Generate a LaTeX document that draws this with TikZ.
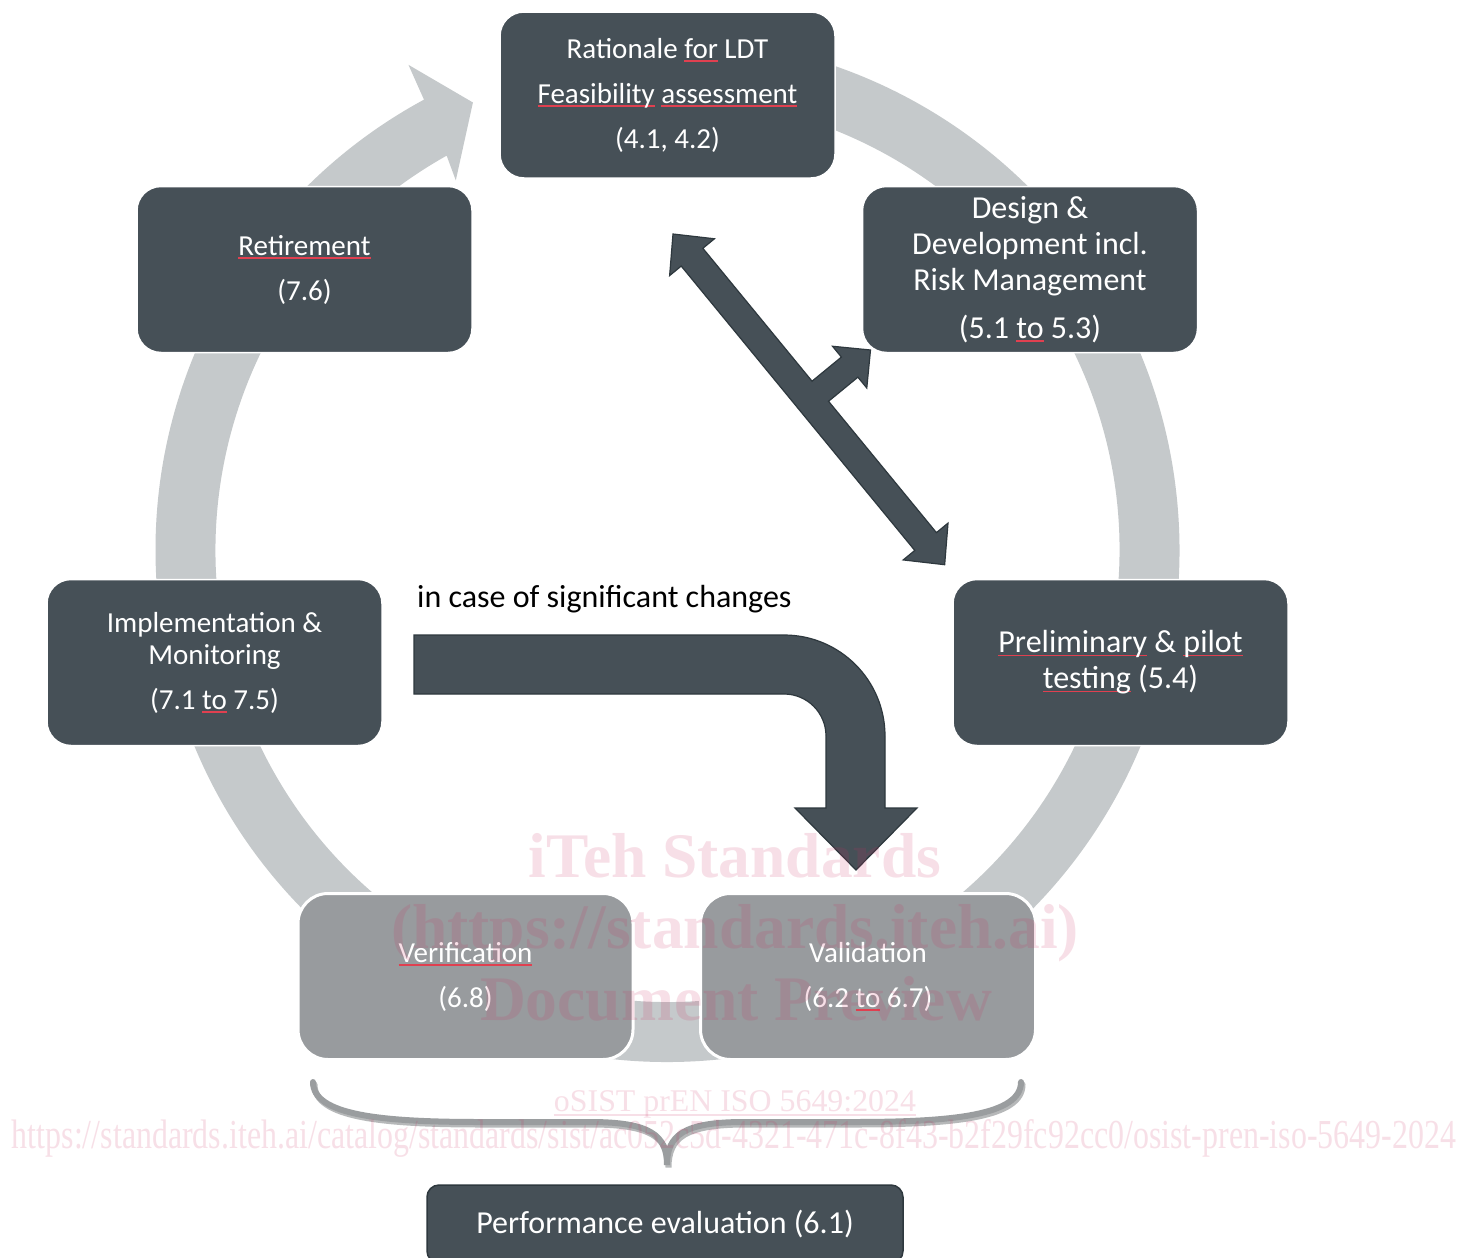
\documentclass[tikz,border=0pt]{standalone}
\usepackage{fontspec}
\setmainfont{Carlito}
\newfontfamily\wmfont{Liberation Serif}
\usepackage{graphicx}
\usetikzlibrary{calc}
\definecolor{dark}{HTML}{465057}
\definecolor{darkline}{HTML}{2E383E}
\definecolor{lgray}{HTML}{989B9E}
\definecolor{ringc}{HTML}{C5C9CB}
\definecolor{bracec}{HTML}{9A9D9F}
\definecolor{braceshadow}{HTML}{6E7275}
\definecolor{sqred}{HTML}{E04050}
\definecolor{wmpink}{RGB}{205,45,95}
\newlength\sqlen
\newcommand\sq[1]{\settowidth{\sqlen}{#1}\rlap{\textcolor{sqred}{\rule[-3.5pt]{\sqlen}{1.3pt}}}#1}
\begin{document}
\begin{tikzpicture}[x=1pt,y=-1pt,
  box/.style={rectangle, rounded corners=24pt, fill=dark, draw=white, line width=1.5pt,
    text=white, align=center, inner sep=0pt, minimum width=335pt, minimum height=166pt,
    font=\fontsize{29}{32}\selectfont},
  bigbox/.style={box, font=\fontsize{32}{36}\selectfont},
  graybox/.style={box, fill=lgray, line width=3pt, rounded corners=30pt},
  darkshape/.style={fill=dark, draw=darkline, line width=1.2pt, line join=miter},
  wm/.style={text=wmpink, text opacity=0.15, inner sep=0pt, anchor=base}]
\useasboundingbox (0,0) rectangle (1460,1258);
\fill[white] (0,0) rectangle (1460,1258);
\coordinate (C) at (667.5,550);
% ring with arrowhead
\fill[ringc] ($(C)+(-95:512)$) arc[start angle=-95, end angle=241.6, radius=512]
  -- ($(C)+(241.9:550)$) -- ($(C)+(246.5:488)$) -- ($(C)+(240.2:426)$)
  -- ($(C)+(240.75:452)$) arc[start angle=240.75, end angle=-95, radius=452] -- cycle;
% boxes
\node[box] (rat) at (667.5,95) {Rationale \sq{for} LDT\\[13pt]\sq{Feasibility} \sq{assessment}\\[13pt](4.1, 4.2)};
\node[bigbox] (des) at (1030,269.5) {Design \&\\Development incl.\\Risk Management\\[12pt](5.1 \sq{to} 5.3)};
\node[bigbox] (pre) at (1120.5,662.5) {\sq{Preliminary} \& \sq{pilot}\\\sq{testing} (5.4)};
\node[graybox] (val) at (868,976.5) {Validation\\[13pt](6.2 \sq{to} 6.7)};
\node[graybox] (ver) at (465.5,976.5) {\sq{Verification}\\[13pt](6.8)};
\node[box] (imp) at (214.5,662.5) {Implementation \&\\Monitoring\\[13pt](7.1 \sq{to} 7.5)};
\node[box] (ret) at (304.5,269.5) {\sq{Retirement}\\[13pt](7.6)};
% double-headed arrow with branch
\begin{scope}[shift={(673,234)}, rotate=-50.6]
\draw[darkshape] (0,0) -- (30,-29) -- (30,-14) -- (202,-14) -- (202,-52) -- (188,-52)
  -- (215,-79) -- (242,-52) -- (228,-52) -- (228,-14) -- (398,-14) -- (398,-29)
  -- (428,0) -- (398,29) -- (398,14) -- (30,14) -- (30,29) -- cycle;
\end{scope}
% bent arrow
\draw[darkshape] (414,635) -- (784,635) arc[start angle=-90, end angle=0, radius=101]
  -- (885,808) -- (917,808) -- (856,870) -- (795,808) -- (826,808) -- (826,736)
  arc[start angle=0, end angle=-90, radius=42] -- (414,694) -- cycle;
\node[anchor=base west, inner sep=0pt, font=\fontsize{32}{36}\selectfont] (lbl) at (417,607) {in case of significant changes};
% brace
\begin{scope}[line width=6pt, line cap=round]
\draw[braceshadow, opacity=0.5, shift={(1.5,2.5)}] (313,1082) .. controls (313,1115) and (380,1122) .. (480,1122) -- (590,1122) .. controls (650,1122) and (667,1135) .. (667,1165)
  .. controls (667,1135) and (684,1122) .. (744,1122) -- (854,1122) .. controls (954,1122) and (1021,1115) .. (1021,1082);
\draw[bracec] (313,1082) .. controls (313,1115) and (380,1122) .. (480,1122) -- (590,1122) .. controls (650,1122) and (667,1135) .. (667,1165)
  .. controls (667,1135) and (684,1122) .. (744,1122) -- (854,1122) .. controls (954,1122) and (1021,1115) .. (1021,1082);
\end{scope}
\node[rectangle, rounded corners=12pt, fill=dark, draw=darkline, line width=1.5pt, text=white,
  minimum width=476pt, minimum height=78pt, inner sep=0pt, font=\fontsize{32}{36}\selectfont]
  (perf) at (665,1224) {Performance evaluation (6.1)};
% watermark
\node[wm, font=\wmfont\bfseries\fontsize{63.5}{70}\selectfont] (wm1) at (735,877) {iTeh Standards};
\node[wm, font=\wmfont\bfseries\fontsize{63.5}{70}\selectfont] (wm2) at (735,948) {(https://standards.iteh.ai)};
\node[wm, font=\wmfont\bfseries\fontsize{63.5}{70}\selectfont] (wm3) at (736,1020) {Document Preview};
\node[wm] (wm4) at (735,1111) {\resizebox{362pt}{21pt}{\wmfont\fontsize{30}{32}\selectfont oSIST prEN ISO 5649:2024}};
\draw[wmpink, opacity=0.15, line width=1.5pt] ($(wm4.base west)+(0,4)$) -- ($(wm4.base east)+(0,4)$);
\node[wm] (wm5) at (734,1148) {\resizebox{1444pt}{29pt}{\wmfont\fontsize{40}{40}\selectfont https://standards.iteh.ai/catalog/standards/sist/ac052c5d-4321-471c-8f43-b2f29fc92cc0/osist-pren-iso-5649-2024}};
\end{tikzpicture}
\end{document}
